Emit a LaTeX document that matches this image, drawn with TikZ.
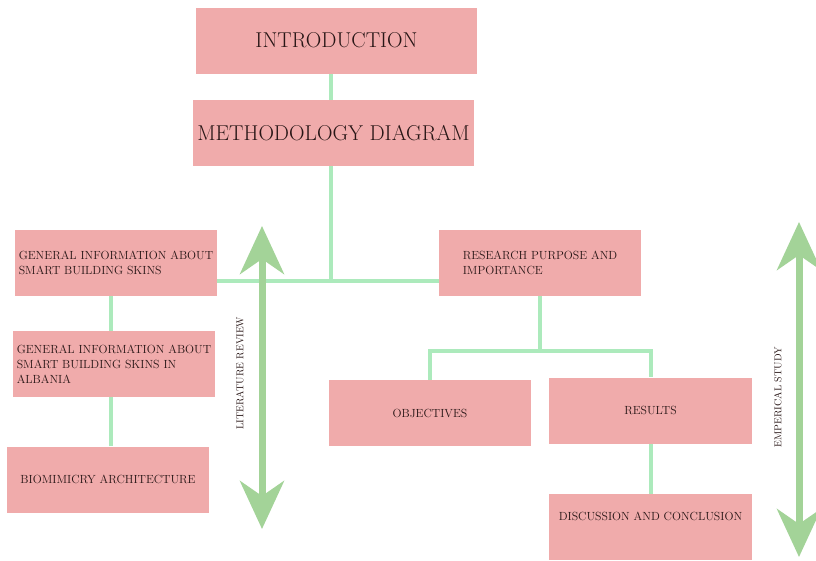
\documentclass[tikz,border=0pt]{standalone}
\usetikzlibrary{arrows.meta,positioning}
\definecolor{boxpink}{RGB}{240,171,171}
\definecolor{linkgreen}{RGB}{172,234,188}
\definecolor{arrgreen}{RGB}{163,211,152}
\definecolor{inkbrown}{RGB}{40,22,22}

\begin{document}
\begin{tikzpicture}[x=1pt,y=-1pt,
      every node/.style={inner sep=2pt,text=inkbrown},
      bigbox/.style={fill=boxpink,minimum width=281pt,minimum height=66pt,
        font=\fontsize{21.5}{26}\selectfont},
      smallbox/.style={fill=boxpink,minimum width=202pt,minimum height=66pt,
        align=left,font=\fontsize{11.8}{15}\selectfont},
      link/.style={linkgreen,line width=4pt},
      span/.style={arrgreen,line width=7pt,
        {Stealth[length=48pt,width=44pt,inset=15pt]}-{Stealth[length=48pt,width=44pt,inset=15pt]}},
      side/.style={rotate=90,font=\fontsize{10}{12}\selectfont}]
      \useasboundingbox(0,0)rectangle(816,560);
      % boxes
      \node[bigbox](intro)at(336.5,40.5){INTRODUCTION};
      \node[bigbox](method)at(333.5,133){METHODOLOGY DIAGRAM};
      \node[smallbox](gen)at(116,262.5){GENERAL INFORMATION ABOUT\\SMART BUILDING SKINS};
      \node[smallbox](alb)at(114,364){GENERAL INFORMATION ABOUT\\SMART BUILDING SKINS IN\\ALBANIA};
      \node[smallbox](bio)at(108,479.5){BIOMIMICRY ARCHITECTURE};
      \node[smallbox](purp)at(540,263){RESEARCH PURPOSE AND\\IMPORTANCE};
      \node[smallbox](obj)at(430,413){OBJECTIVES};
      \node[smallbox,minimum width=203pt](res)at(650.5,410.5){RESULTS};
      \node[smallbox,minimum width=203pt,text depth=22pt](disc)at(650.5,527){DISCUSSION AND CONCLUSION};
      % connectors
      \coordinate(hub)at(331,281);
      \coordinate(fork)at(540,351);
      \draw[link](intro.south-|hub)--(method.north-|hub);
      \draw[link](method.south-|hub)--(hub);
      \draw[link](hub-|gen.east)--(hub-|purp.west);
      \draw[link](alb.north-|111,0)--(gen.south-|111,0);
      \draw[link](bio.north-|111,0)--(alb.south-|111,0);
      \draw[link](purp.south)--(fork);
      \draw[link](obj.north)|-(fork)-|(res.north);
      \draw[link](res.south)--(disc.north);
      % side arrows
      \coordinate(littop)at(262,226);\coordinate(litbot)at(262,529);
      \coordinate(emptop)at(799,222);\coordinate(empbot)at(799,557);
      \draw[span](littop)--(litbot);
      \draw[span](emptop)--(empbot);
      \node[side](lit)at(240,373){LITERATURE REVIEW};
      \node[side](emp)at(778,397){EMPERICAL STUDY};
    \end{tikzpicture}
\end{document}
